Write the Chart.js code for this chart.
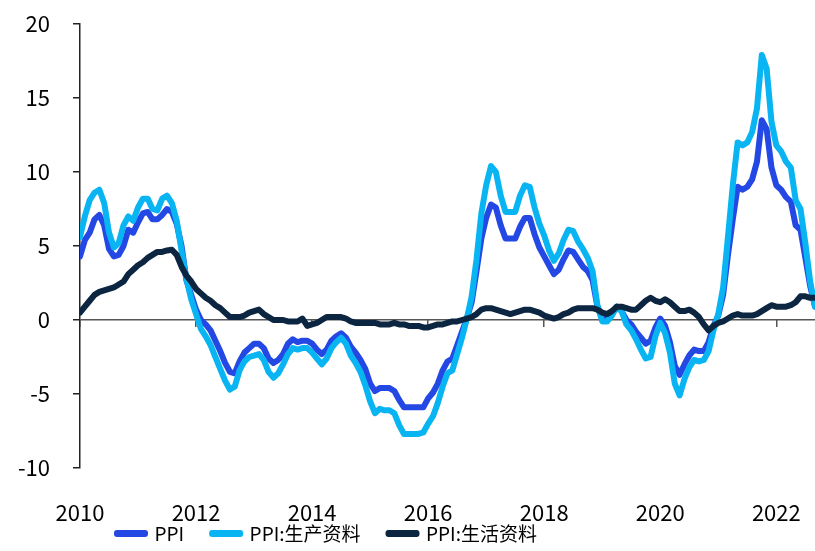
<!DOCTYPE html>
<html>
<head>
<meta charset="utf-8">
<script src="https://cdn.jsdelivr.net/npm/chart.js@4"></script>
<style>
  body { margin: 0; background: #fff; }
</style>
</head>
<body>
<canvas id="mycanvas" width="815" height="551"></canvas>
<script>
// monthly, 2010-01 .. 2022-09
var startYear = 2010;
var seriesNames = ["PPI", "PPI:生产资料", "PPI:生活资料"];
var yTicks = [-10, -5, 0, 5, 10, 15, 20];

var ppi = [
	4.3, 5.4, 5.9, 6.8, 7.1, 6.4, 4.8, 4.3, 4.4, 5.0, 6.1, 5.9,
	6.6, 7.2, 7.3, 6.8, 6.8, 7.1, 7.5, 7.3, 6.5, 5.0, 2.7, 1.7,
	0.7, 0.0, -0.3, -0.7, -1.4, -2.1, -2.9, -3.5, -3.6, -2.8, -2.2, -1.9,
	-1.6, -1.6, -1.9, -2.6, -2.9, -2.7, -2.3, -1.6, -1.3, -1.5, -1.4, -1.4,
	-1.6, -2.0, -2.3, -2.0, -1.4, -1.1, -0.9, -1.2, -1.8, -2.2, -2.7, -3.3,
	-4.3, -4.8, -4.6, -4.6, -4.6, -4.8, -5.4, -5.9, -5.9, -5.9, -5.9, -5.9,
	-5.3, -4.9, -4.3, -3.4, -2.8, -2.6, -1.7, -0.8, 0.1, 1.2, 3.3, 5.5,
	6.9, 7.8, 7.6, 6.4, 5.5, 5.5, 5.5, 6.3, 6.9, 6.9, 5.8, 4.9,
	4.3, 3.7, 3.1, 3.4, 4.1, 4.7, 4.6, 4.1, 3.6, 3.3, 2.7, 0.9,
	0.1, 0.1, 0.4, 0.9, 0.6, 0.0, -0.3, -0.8, -1.2, -1.6, -1.4, -0.5,
	0.1, -0.4, -1.5, -3.1, -3.7, -3.0, -2.4, -2.0, -2.1, -2.1, -1.5, -0.4,
	0.3, 1.7, 4.4, 6.8, 9.0, 8.8, 9.0, 9.5, 10.7, 13.5, 12.9, 10.3,
	9.1, 8.8, 8.3, 8.0, 6.4, 6.1, 4.2, 2.3, 0.9
];

var ppiProducer = [
	5.6, 7.0, 8.1, 8.6, 8.8, 7.9, 5.9, 4.9, 5.2, 6.4, 7.0, 6.7,
	7.6, 8.2, 8.2, 7.5, 7.4, 8.2, 8.4, 7.9, 6.7, 4.7, 2.8, 1.4,
	0.4, -0.6, -1.1, -1.7, -2.5, -3.3, -4.1, -4.7, -4.5, -3.4, -2.8, -2.5,
	-2.4, -2.3, -2.7, -3.5, -3.9, -3.6, -3.0, -2.3, -1.9, -2.0, -1.9, -1.9,
	-2.2, -2.6, -3.0, -2.6, -1.9, -1.5, -1.2, -1.6, -2.4, -2.9, -3.5, -4.4,
	-5.5, -6.3, -6.0, -6.1, -6.1, -6.3, -7.1, -7.7, -7.7, -7.7, -7.7, -7.6,
	-7.0, -6.5, -5.6, -4.5, -3.6, -3.4, -2.3, -1.2, 0.1, 1.6, 4.1, 7.2,
	9.1, 10.4, 10.0, 8.4, 7.3, 7.3, 7.3, 8.4, 9.1, 9.0, 7.6, 6.5,
	5.7, 4.7, 4.0, 4.5, 5.4, 6.1, 6.0, 5.3, 4.8, 4.2, 3.3, 1.0,
	-0.1, -0.1, 0.3, 0.9, 0.6, -0.3, -0.7, -1.3, -2.0, -2.6, -2.5, -1.1,
	-0.2, -0.9, -2.2, -4.3, -5.1, -4.0, -3.2, -2.7, -2.8, -2.7, -2.1, -0.7,
	0.4, 2.2, 5.6, 9.1, 12.0, 11.8, 12.0, 12.7, 14.3, 17.9, 17.0, 13.4,
	11.8, 11.4, 10.7, 10.3, 8.1, 7.5, 5.2, 2.6, 0.9
];

var ppiConsumer = [
	0.5, 0.9, 1.3, 1.7, 1.9, 2.0, 2.1, 2.2, 2.4, 2.6, 3.1, 3.4,
	3.7, 3.9, 4.2, 4.4, 4.6, 4.6, 4.7, 4.75, 4.4, 3.6, 3.0, 2.6,
	2.1, 1.8, 1.5, 1.3, 1.0, 0.8, 0.5, 0.2, 0.2, 0.2, 0.3, 0.5,
	0.6, 0.7, 0.4, 0.2, 0.0, 0.0, 0.0, -0.1, -0.1, -0.1, 0.1, -0.4,
	-0.3, -0.2, 0.0, 0.2, 0.2, 0.2, 0.2, 0.1, -0.1, -0.2, -0.2, -0.2,
	-0.2, -0.2, -0.3, -0.3, -0.3, -0.2, -0.3, -0.3, -0.4, -0.4, -0.4, -0.5,
	-0.5, -0.4, -0.3, -0.3, -0.2, -0.1, -0.1, 0.0, 0.1, 0.2, 0.4, 0.7,
	0.8, 0.8, 0.7, 0.6, 0.5, 0.4, 0.5, 0.6, 0.7, 0.7, 0.6, 0.5,
	0.3, 0.2, 0.1, 0.2, 0.4, 0.5, 0.7, 0.8, 0.8, 0.8, 0.8, 0.7,
	0.5, 0.4, 0.6, 0.9, 0.9, 0.8, 0.7, 0.7, 1.0, 1.3, 1.5, 1.3,
	1.2, 1.4, 1.2, 0.9, 0.6, 0.6, 0.7, 0.5, 0.2, -0.3, -0.7, -0.4,
	-0.2, -0.1, 0.1, 0.3, 0.4, 0.3, 0.3, 0.3, 0.4, 0.6, 0.8, 1.0,
	0.9, 0.9, 0.9, 1.0, 1.2, 1.6, 1.6, 1.5, 1.5
];

// x position of each month as fractional year
var months = [];
for (var i = 0; i < ppi.length; i++) {
	months.push(startYear + i / 12);
}

function toPoints(values) {
	var pts = [];
	for (var i in values) {
		pts.push({x: months[i], y: values[i]});
	}
	return pts;
}

var fontStack = "'Noto Sans CJK SC', 'Noto Sans', sans-serif";
var tickFont = {family: fontStack, size: 22, lineHeight: 1};
var xMin = months[0];
var xMax = months[months.length - 1];

var chartdata = {
	datasets: [
		{
			label: seriesNames[0],
			data: toPoints(ppi),
			borderColor: "#2348e4",
			backgroundColor: "#2348e4",
			order: 3
		},
		{
			label: seriesNames[1],
			data: toPoints(ppiProducer),
			borderColor: "#08b5f2",
			backgroundColor: "#08b5f2",
			order: 2
		},
		{
			label: seriesNames[2],
			data: toPoints(ppiConsumer),
			borderColor: "#0c2541",
			backgroundColor: "#0c2541",
			order: 1
		}
	]
};

// legend sits left of centre in the original
var legendShift = {
	id: 'legendShift',
	afterLayout: function(chart) {
		var lg = chart.legend;
		lg.left = 89;
		lg.right = 815;
		lg.top = 496;
		lg.bottom = 551;
		lg.height = lg.bottom - lg.top;
		lg.width = lg.right - lg.left;
	}
};

var ctx = document.getElementById("mycanvas");

var LineGraph = new Chart(ctx, {
	type: 'line',
	data: chartdata,
	plugins: [legendShift],
	options: {
		responsive: false,
		animation: false,
		layout: {padding: {top: 24, right: 0, bottom: -34, left: 0}},
		elements: {
			line: {borderWidth: 6, tension: 0, borderJoinStyle: 'round', borderCapStyle: 'round', fill: false},
			point: {radius: 0, hoverRadius: 0}
		},
		plugins: {
			tooltip: {enabled: false},
			legend: {
				position: 'bottom',
				align: 'start',
				labels: {
					boxWidth: 28,
					boxHeight: 1,
					padding: 28,
					color: '#000',
					font: {family: fontStack, size: 19},
					sort: function(a, b) { return a.datasetIndex - b.datasetIndex; }
				}
			}
		},
		scales: {
			x: {
				type: 'linear',
				min: xMin,
				max: xMax,
				grid: {display: false, drawTicks: true, tickLength: 30},
				border: {display: false},
				ticks: {
					stepSize: 2,
					includeBounds: false,
					padding: 4,
					maxRotation: 0,
					color: '#000',
					font: tickFont,
					callback: function(v) { return String(Math.round(v)); }
				}
			},
			x2: {
				type: 'linear',
				position: {y: 0},
				min: xMin,
				max: xMax,
				grid: {drawOnChartArea: false, drawTicks: true, tickLength: 7, color: '#555', lineWidth: 1.5},
				border: {display: false},
				ticks: {display: false, stepSize: 2, includeBounds: false}
			},
			y: {
				min: yTicks[0],
				max: yTicks[yTicks.length - 1],
				afterFit: function(scale) {
					scale.width = 80;
					scale.paddingTop = 10;
					scale.paddingBottom = 10;
				},
				afterBuildTicks: function(scale) {
					scale.ticks = yTicks.map(function(v) { return {value: v}; });
				},
				grid: {
					drawTicks: true,
					tickLength: 7,
					lineWidth: 1.5,
					tickColor: '#222',
					color: function(c) { return c.tick && c.tick.value === 0 ? '#555' : 'rgba(0,0,0,0)'; }
				},
				border: {display: true, color: '#222', width: 1.5},
				ticks: {
					padding: 23,
					color: '#000',
					font: tickFont
				}
			}
		}
	}
});
</script>
</body>
</html>
